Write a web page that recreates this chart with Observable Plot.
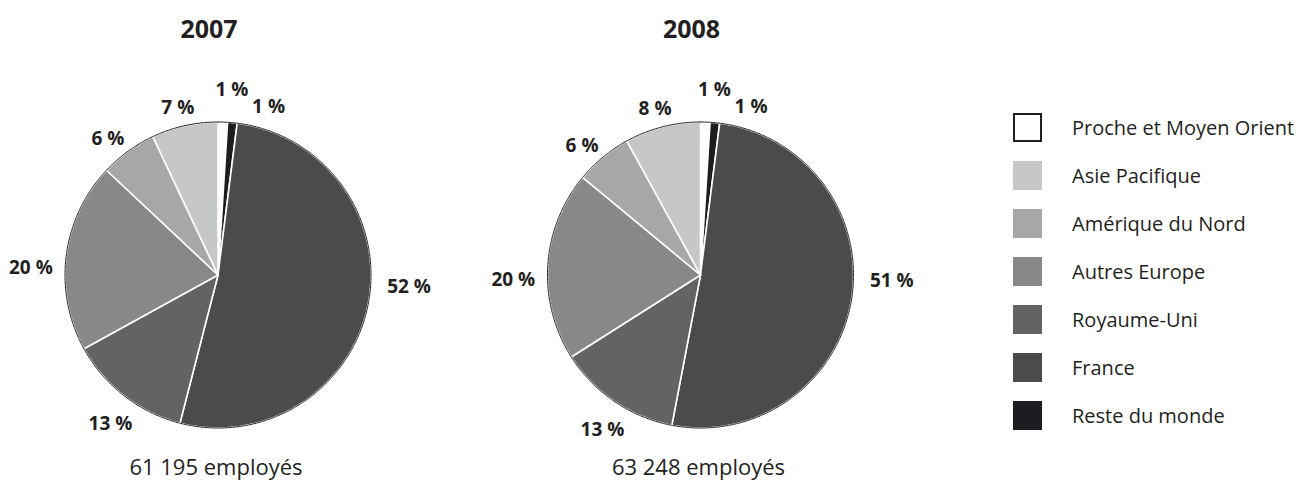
<!DOCTYPE html>
<html>
<head>
<meta charset="utf-8">
<script src="https://cdn.jsdelivr.net/npm/d3@7"></script>
<script src="https://cdn.jsdelivr.net/npm/@observablehq/plot@0.6"></script>
<style>
  body { margin: 0; background: #fff; font-family: "Open Sans", sans-serif; }
  #wrap { position: relative; width: 1298px; height: 489px; overflow: hidden; background: #fff; }
  #chart { position: absolute; left: 0; top: 0; }
  #legend { position: absolute; left: 1013px; top: 103px; }
  .row { display: flex; align-items: center; height: 48px; }
  .sw { width: 29px; height: 29px; box-sizing: border-box; flex: none; }
  .lab { margin-left: 30px; font-size: 20px; color: #231f20; white-space: nowrap; }
</style>
</head>
<body>
<div id="wrap"><div id="chart"></div><div id="legend"></div></div>
<script>
// ---- data ----
const years = ["2007", "2008"];
const employees = [61195, 63248];
// slice order, clockwise from 12 o'clock
const categories = ["Proche et Moyen Orient", "Reste du monde", "France", "Royaume-Uni", "Autres Europe", "Amérique du Nord", "Asie Pacifique"];
const share2007 = [1, 1, 52, 13, 20, 6, 7];
const share2008 = [1, 1, 51, 13, 20, 6, 8];
const colors = ["#ffffff", "#1e1c21", "#4b4b4d", "#626365", "#87888a", "#a6a7a9", "#c6c7c9"];
const legendOrder = ["Proche et Moyen Orient", "Asie Pacifique", "Amérique du Nord", "Autres Europe", "Royaume-Uni", "France", "Reste du monde"];

// ---- layout (label placement: angle offset in degrees, radius in pie radii) ----
const labelNudge = {
  "Proche et Moyen Orient": [2.5, 1.214],
  "Reste du monde": [11.3, 1.150],
  "France": [-7.2, 1.251],
  "Royaume-Uni": [-1.9, 1.199],
  "Autres Europe": [-5.0, 1.224],
  "Amérique du Nord": [-2.9, 1.146],
  "Asie Pacifique": [-0.9, 1.126]
};
const R = 153;               // pie radius in px
const facetW = 482.5, cx = 217.5, cy = 274.5, H = 489;
const ink = "#231f20";

const shares = {"2007": share2007, "2008": share2008};
const wedges = [], labels = [], outline = [];
const rad = a => a * Math.PI / 180;
for (const yr of years) {
  const vals = shares[yr];
  const total = d3.sum(vals);
  let acc = 0;
  vals.forEach((v, i) => {
    const a0 = acc / total * 360, a1 = (acc + v) / total * 360;
    acc += v;
    const cat = categories[i];
    wedges.push({year: yr, cat, key: yr + cat, x: 0, y: 0});
    const n = Math.max(2, Math.ceil((a1 - a0) / 0.5));
    for (let k = 0; k <= n; k++) {
      const a = rad(a0 + (a1 - a0) * k / n);
      wedges.push({year: yr, cat, key: yr + cat, x: Math.sin(a), y: Math.cos(a)});
    }
    wedges.push({year: yr, cat, key: yr + cat, x: 0, y: 0});
    const [da, rr] = labelNudge[cat];
    const am = rad((a0 + a1) / 2 + da);
    labels.push({year: yr, cat, text: v + "\u00a0%", x: rr * Math.sin(am), y: rr * Math.cos(am)});
  });
  for (let k = 0; k <= 720; k++) {
    const a = rad(k / 2);
    outline.push({year: yr, x: Math.sin(a), y: Math.cos(a)});
  }
}
const fmt = n => d3.format(",")(n).replace(/,/g, "\u00a0");
const captions = years.map((y, i) => ({year: y, text: fmt(employees[i]) + " employés"}));

const chart = Plot.plot({
  width: facetW * 2,
  height: H,
  margin: 0,
  style: {fontFamily: "Open Sans, sans-serif", color: ink, background: "transparent"},
  fx: {domain: years, padding: 0, axis: null, round: false},
  x: {domain: [-cx / R, (facetW - cx) / R], axis: null},
  y: {domain: [-(H - cy) / R, cy / R], axis: null},
  color: {domain: categories, range: colors},
  marks: [
    Plot.line(wedges, {fx: "year", x: "x", y: "y", z: "key", fill: "cat", stroke: "#ffffff", strokeWidth: 1.6, curve: "linear"}),
    Plot.line(outline, {fx: "year", x: "x", y: "y", stroke: ink, strokeWidth: 1}),
    Plot.text(labels, {fx: "year", x: "x", y: "y", text: "text", fontSize: 19, fontWeight: "bold", fill: ink}),
    Plot.text(years, {fx: d => d, x: 0, text: d => d, frameAnchor: "top", lineAnchor: "middle", dy: 29, dx: -9, fontSize: 25, fontWeight: "bold", fill: ink}),
    Plot.text(captions, {fx: "year", x: 0, text: "text", frameAnchor: "bottom", lineAnchor: "middle", dy: -22, dx: -2, fontSize: 22, fill: ink})
  ]
});
document.getElementById("chart").appendChild(chart);

const legend = document.getElementById("legend");
for (const cat of legendOrder) {
  const row = document.createElement("div");
  row.className = "row";
  const sw = document.createElement("div");
  sw.className = "sw";
  const c = colors[categories.indexOf(cat)];
  sw.style.background = c;
  if (c === "#ffffff") sw.style.border = "2px solid " + ink;
  const lab = document.createElement("div");
  lab.className = "lab";
  lab.textContent = cat;
  row.appendChild(sw);
  row.appendChild(lab);
  legend.appendChild(row);
}
</script>
</body>
</html>
